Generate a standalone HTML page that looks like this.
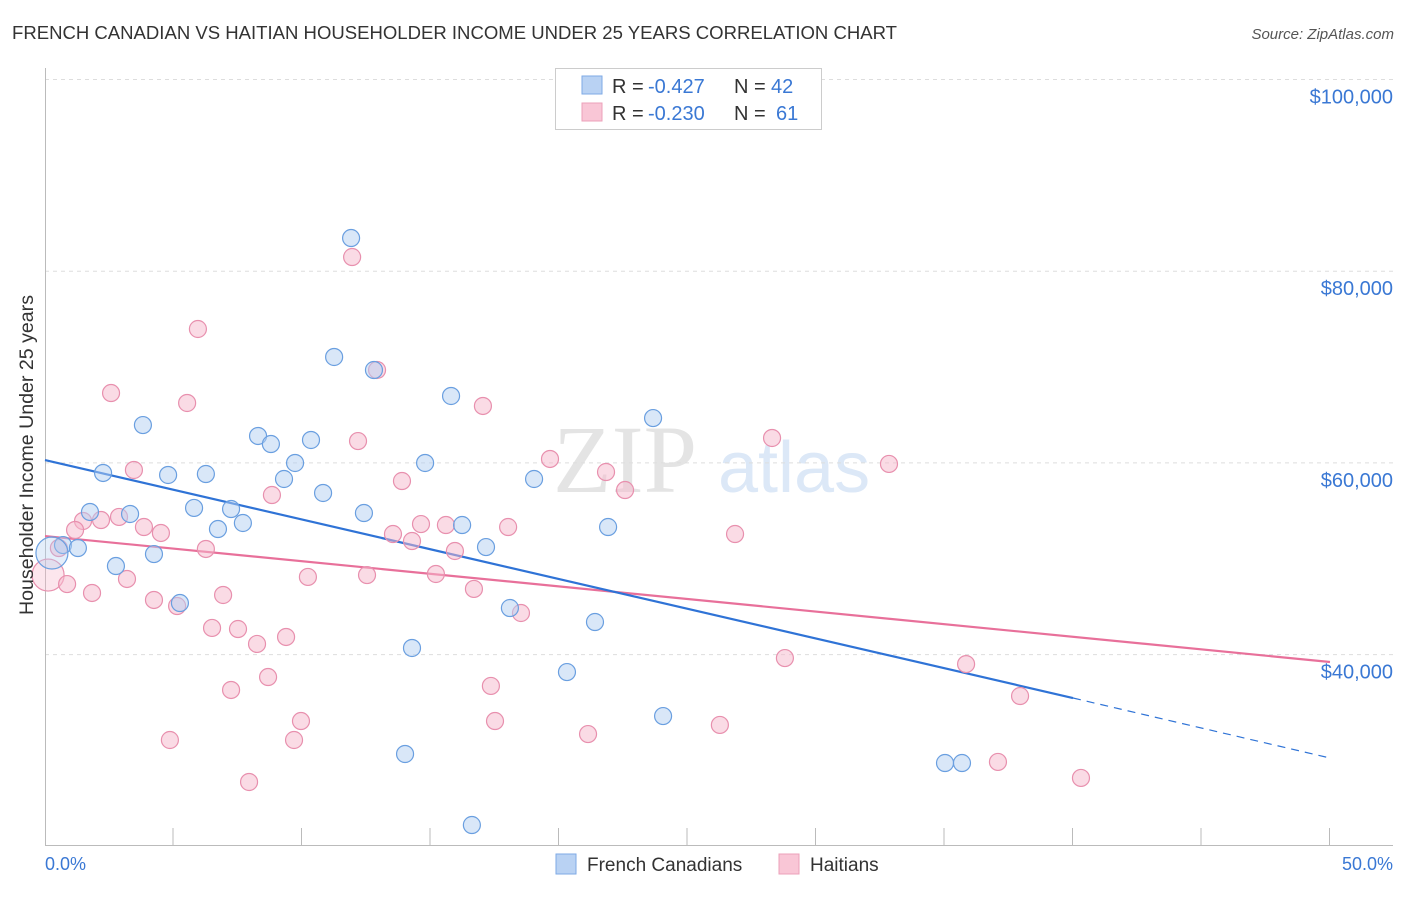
<!DOCTYPE html>
<html><head><meta charset="utf-8">
<style>
body{margin:0;background:#fff;font-family:"Liberation Sans",sans-serif;}
svg text{font-family:"Liberation Sans",sans-serif;}
</style></head>
<body>
<svg id="chart" width="1406" height="892" xmlns="http://www.w3.org/2000/svg">
<text x="12" y="39" font-size="18.5" fill="#333" textLength="885" lengthAdjust="spacingAndGlyphs">FRENCH CANADIAN VS HAITIAN HOUSEHOLDER INCOME UNDER 25 YEARS CORRELATION CHART</text>
<text x="1394" y="39" font-size="15" fill="#555" font-style="italic" text-anchor="end">Source: ZipAtlas.com</text>
<g>
<text x="553" y="492" font-size="96" fill="#e4e4e4" font-family="Liberation Serif" style="font-family:'Liberation Serif',serif">ZIP</text>
<text x="718" y="492" font-size="72" fill="#dce8f7">atlas</text>
</g>
<g id="grid"></g>
<g id="axes"></g>
<g id="lines"></g>
<g id="points"></g>
<text x="33" y="455" font-size="19" fill="#333" text-anchor="middle" transform="rotate(-90 33 455)" textLength="320" lengthAdjust="spacingAndGlyphs">Householder Income Under 25 years</text>
<text x="45" y="870" font-size="18" fill="#3a78d4">0.0%</text>
<text x="1393" y="870" font-size="18" fill="#3a78d4" text-anchor="end">50.0%</text>
<g>
<rect x="555.5" y="68.5" width="266" height="61" fill="#fff" stroke="#ccc"/>
<rect x="582" y="76" width="20" height="18" fill="#b9d2f3" stroke="#7eaae6"/>
<rect x="582" y="103" width="20" height="18" fill="#f9c6d6" stroke="#eca0ba"/>
<text x="612" y="93" font-size="20" fill="#333">R = <tspan fill="#3a78d4" x="648">-0.427</tspan><tspan x="734">N = </tspan><tspan fill="#3a78d4" x="771">42</tspan></text>
<text x="612" y="120" font-size="20" fill="#333">R = <tspan fill="#3a78d4" x="648">-0.230</tspan><tspan x="734">N = </tspan><tspan fill="#3a78d4" x="776">61</tspan></text>
</g>
<g>
<rect x="556" y="854" width="20" height="20" fill="#b9d2f3" stroke="#7eaae6"/>
<text x="587" y="871" font-size="19" fill="#333">French Canadians</text>
<rect x="779" y="854" width="20" height="20" fill="#f9c6d6" stroke="#eca0ba"/>
<text x="810" y="871" font-size="19" fill="#333">Haitians</text>
</g>
</svg>
<script>
const yTicks=[40,60,80,100];
const yTickLabels=["$40,000","$60,000","$80,000","$100,000"];
const xTicks=[5,10,15,20,25,30,35,40,45,50];
const blueX=[11.91,11.25,12.80,15.80,3.81,23.66,8.29,8.79,10.35,9.73,14.79,2.26,4.79,6.26,9.30,19.03,10.82,1.75,3.31,5.80,7.24,12.41,6.73,7.70,16.23,21.91,0.70,1.28,4.24,17.16,2.76,5.25,18.09,21.40,14.28,20.31,24.05,14.01,35.02,35.68,16.61,0.27];
const blueY=[83.46,71.05,69.69,66.98,63.95,64.68,62.81,61.97,62.39,59.99,59.99,58.95,58.74,58.84,58.32,58.32,56.86,54.88,54.67,55.30,55.19,54.77,53.10,53.73,53.52,53.31,51.43,51.12,50.49,51.22,49.24,45.38,44.86,43.40,40.69,38.18,33.59,29.63,28.69,28.69,22.22,50.6];
const pinkX=[11.95,5.95,2.57,5.53,12.92,17.04,12.18,28.29,19.65,32.84,3.46,21.83,13.89,22.57,8.83,1.48,2.18,2.88,1.17,3.85,4.51,13.54,14.63,15.60,18.02,14.28,6.26,15.95,26.85,0.54,0.12,0.86,1.83,3.19,10.23,12.53,15.21,16.69,4.24,6.93,5.14,18.52,6.50,7.51,9.38,8.25,28.79,35.84,8.68,7.24,17.35,37.94,9.96,17.51,26.26,4.86,9.69,21.13,7.94,37.08,40.31];
const pinkY=[81.48,73.97,67.29,66.25,69.69,65.94,62.28,62.60,60.41,59.89,59.26,59.05,58.11,57.17,56.65,53.94,54.04,54.36,53.00,53.31,52.69,52.58,53.62,53.52,53.31,51.85,51.02,50.81,52.58,51.12,48.30,47.36,46.43,47.89,48.10,48.30,48.41,46.85,45.70,46.22,45.07,44.34,42.78,42.67,41.84,41.11,39.64,39.01,37.66,36.31,36.73,35.68,33.07,33.07,32.66,31.09,31.09,31.71,26.71,28.80,27.13];
const blueTrend=[[0,60.30],[40,35.47]];
const blueTrendExt=[[40,35.47],[50,29.21]];
const pinkTrend=[[0,52.37],[50,39.23]];

const NS="http://www.w3.org/2000/svg";
function sx(v){return 45+v/50*1285;}
function sy(v){return 79.5+(100-v)/20*191.7;}
function mk(tag,attrs,parent){const e=document.createElementNS(NS,tag);for(const k in attrs)e.setAttribute(k,attrs[k]);parent.appendChild(e);return e;}
const grid=document.getElementById('grid'),axes=document.getElementById('axes'),lines=document.getElementById('lines'),pts=document.getElementById('points');
yTicks.forEach((t,i)=>{
  const l=mk('line',{x1:45,x2:1393,y1:sy(t),y2:sy(t),stroke:'#ddd','stroke-dasharray':'4,4'},grid);
  
  
  const tx=mk('text',{x:1393,y:sy(t)+24,'font-size':20,fill:'#3a78d4','text-anchor':'end'},grid);
  tx.textContent=yTickLabels[i];
  
  
});
const xa=mk('line',{x1:45,x2:1393,y1:845.5,y2:845.5,stroke:'#bbb'},axes);


const ya=mk('line',{x1:45.5,x2:45.5,y1:68,y2:845,stroke:'#bbb'},axes);


xTicks.forEach(t=>{
  const l=mk('line',{x1:sx(t)-0.5,x2:sx(t)-0.5,y1:828,y2:845,stroke:'#bbb'},axes);
  
  
});
function drawPts(X,Y,fill,stroke,name){
  X.forEach((x,i)=>{
    const big=(i===X.length-1&&name==='french-point')||(name==='haitian-point'&&x<0.2);
    const c=mk('circle',{cx:sx(x),cy:sy(Y[i]),r:big?16:8.5,fill:fill,'fill-opacity':big?0.35:0.5,stroke:stroke,'stroke-width':1.2},pts);
    
    
  });
}
drawPts(pinkX,pinkY,'#f5b8cc','#e890ae','haitian-point');
drawPts(blueX,blueY,'#b3cff2','#6a9fe0','french-point');
function ln(seg,color,dash,name){
  const l=mk('line',{x1:sx(seg[0][0]),y1:sy(seg[0][1]),x2:sx(seg[1][0]),y2:sy(seg[1][1]),stroke:color,'stroke-width':dash?1.2:2.2},lines);
  if(dash)l.setAttribute('stroke-dasharray','8,6');
  
  
}
ln(pinkTrend,'#e8709a',false,'haitian-trendline');
ln(blueTrend,'#2f73d6',false,'french-trendline');
ln(blueTrendExt,'#2f73d6',true,'french-trendline-extension');
</script>
</body></html>
